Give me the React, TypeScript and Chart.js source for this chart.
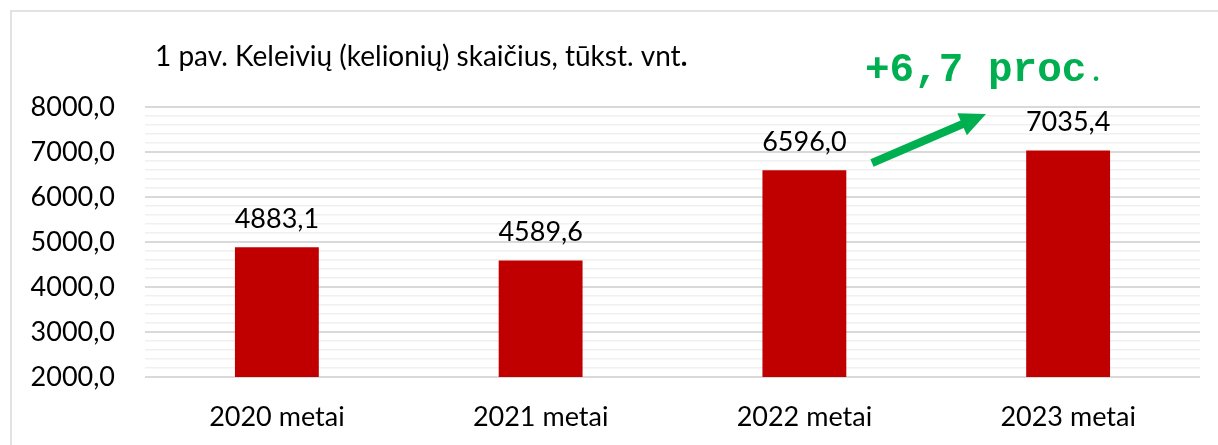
import React, { useEffect, useRef } from "react";
import { Chart, registerables } from "chart.js";

Chart.register(...registerables);

const categories = ["2020 metai", "2021 metai", "2022 metai", "2023 metai"];
const passengers = [4883.1, 4589.6, 6596.0, 7035.4];
const chartTitle = "1 pav. Keleivių (kelionių) skaičius, tūkst. vnt";
const growthLabel = "+6,7 proc";
const yMin = 2000;
const yMax = 8000;
const yMinorStep = 200;
const yMajorStep = 1000;

const fmt = (v: number) => v.toFixed(1).replace(".", ",");
const FONT = "Lato, 'Noto Sans', sans-serif";

export default function App() {
  const ref = useRef<HTMLCanvasElement | null>(null);

  useEffect(() => {
    document.body.style.margin = "0";
    const canvas = ref.current!;
    const decorPlugin = {
      id: "decor",
      beforeDraw(chart: any) {
        const ctx = chart.ctx;
        ctx.save();
        ctx.fillStyle = "#ffffff";
        ctx.fillRect(0, 0, chart.width, chart.height);
        ctx.strokeStyle = "#d9d9d9";
        ctx.lineWidth = 1.5;
        ctx.beginPath();
        ctx.moveTo(11, chart.height + 5);
        ctx.lineTo(11, 11);
        ctx.lineTo(chart.width + 5, 11);
        ctx.stroke();
        ctx.restore();
      },
      afterDatasetsDraw(chart: any) {
        const ctx = chart.ctx;
        ctx.save();
        // data labels
        const meta = chart.getDatasetMeta(0);
        ctx.fillStyle = "#000000";
        ctx.font = `27px ${FONT}`;
        ctx.textAlign = "center";
        ctx.textBaseline = "alphabetic";
        meta.data.forEach((bar: any, i: number) => {
          ctx.fillText(fmt(passengers[i]), bar.x, bar.y - 19);
        });
        // title
        ctx.textAlign = "left";
        ctx.font = `28px ${FONT}`;
        ctx.fillText(chartTitle, 155, 66);
        const w = ctx.measureText(chartTitle).width;
        ctx.font = `bold 28px ${FONT}`;
        ctx.fillText(".", 155 + w, 66);
        // growth label
        ctx.fillStyle = "#00B050";
        ctx.font = `bold 41px 'Liberation Mono', 'DejaVu Sans Mono', monospace`;
        ctx.fillText(growthLabel, 865, 81);
        const gw = ctx.measureText(growthLabel).width;
        ctx.font = `bold 30px ${FONT}`;
        ctx.fillText(".", 865 + gw + 6, 81);
        // arrow
        const x0 = 872, y0 = 163, x1 = 986, y1 = 114;
        const ang = Math.atan2(y1 - y0, x1 - x0);
        const headLen = 26, headHalf = 12;
        const bx = x1 - headLen * Math.cos(ang);
        const by = y1 - headLen * Math.sin(ang);
        ctx.strokeStyle = "#00B050";
        ctx.lineWidth = 8;
        ctx.lineCap = "butt";
        ctx.beginPath();
        ctx.moveTo(x0, y0);
        ctx.lineTo(bx + 2 * Math.cos(ang), by + 2 * Math.sin(ang));
        ctx.stroke();
        ctx.beginPath();
        ctx.moveTo(x1, y1);
        ctx.lineTo(bx + headHalf * Math.sin(ang), by - headHalf * Math.cos(ang));
        ctx.lineTo(bx - headHalf * Math.sin(ang), by + headHalf * Math.cos(ang));
        ctx.closePath();
        ctx.fill();
        ctx.restore();
      },
    };

    const chart = new Chart(canvas, {
      type: "bar",
      data: {
        labels: categories,
        datasets: [
          {
            data: passengers,
            backgroundColor: "#C00000",
            borderWidth: 0,
            barPercentage: 0.318,
            categoryPercentage: 1,
          },
        ],
      },
      options: {
        responsive: false,
        animation: false,
        layout: { padding: { top: 107, right: 18, bottom: 0, left: 0 } },
        plugins: {
          legend: { display: false },
          tooltip: { enabled: false },
          title: { display: false },
        },
        scales: {
          x: {
            grid: { display: false, drawTicks: false },
            border: { display: false },
            ticks: {
              color: "#000000",
              font: { family: FONT, size: 27 },
              padding: 24,
            },
            afterFit: (scale: any) => {
              scale.height = 68;
            },
          },
          y: {
            min: yMin,
            max: yMax,
            border: { display: false },
            grid: {
              drawTicks: false,
              color: (c: any) =>
                c.tick && c.tick.value % yMajorStep === 0 ? "#d9d9d9" : "#f0f0f0",
              lineWidth: (c: any) =>
                c.tick && c.tick.value % yMajorStep === 0 ? 2 : 1.5,
            },
            ticks: {
              stepSize: yMinorStep,
              autoSkip: false,
              color: "#000000",
              font: { family: FONT, size: 27 },
              padding: 30,
              callback: (v: any) => (Number(v) % yMajorStep === 0 ? fmt(Number(v)) : ""),
            },
            afterFit: (scale: any) => {
              scale.width = 145;
            },
          },
        },
      },
      plugins: [decorPlugin],
    });
    return () => chart.destroy();
  }, []);

  return (
    <div style={{ position: "absolute", left: 0, top: 0, width: 1218, height: 445 }}>
      <canvas ref={ref} width={1218} height={445} />
    </div>
  );
}
